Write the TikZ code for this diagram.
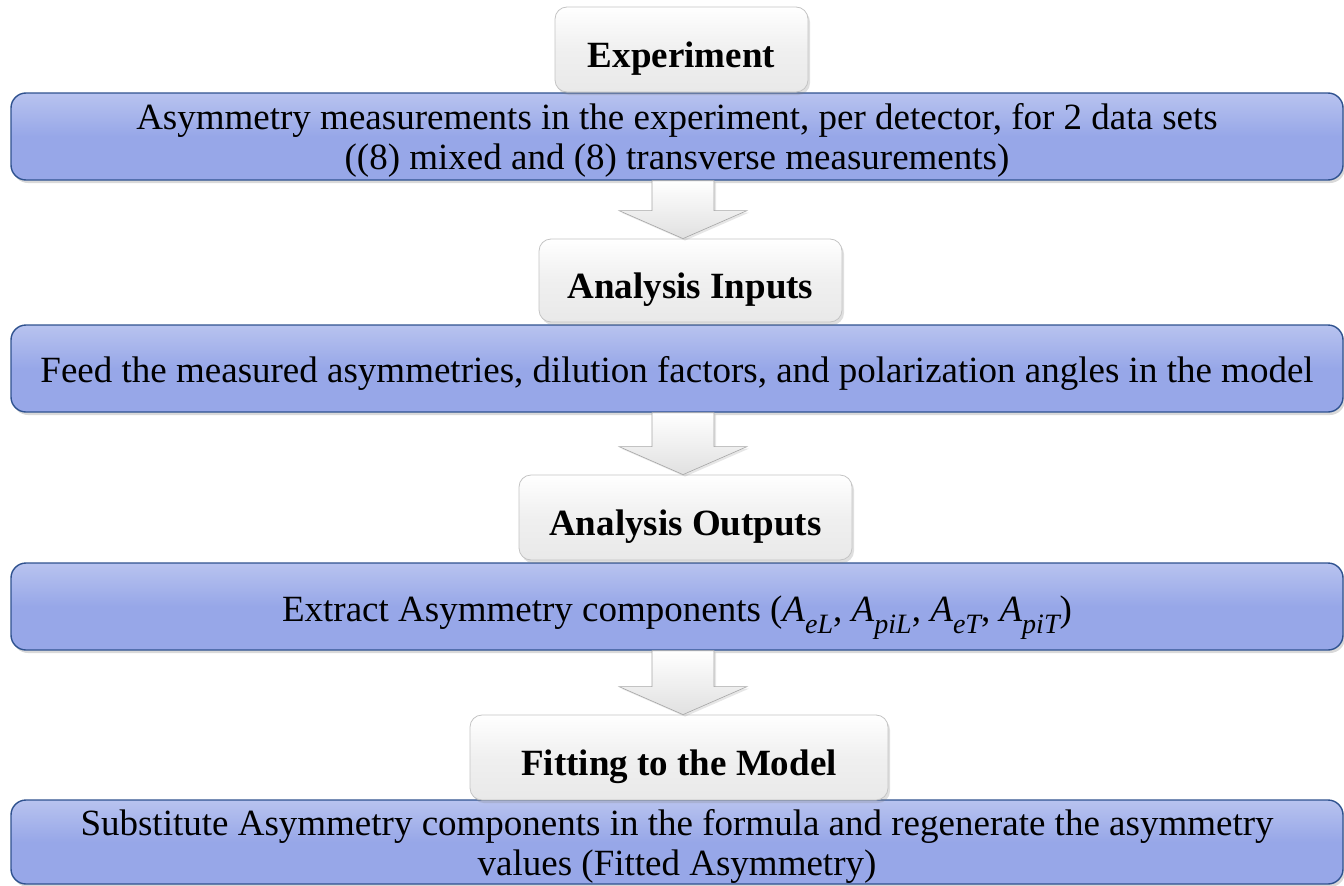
\documentclass[tikz,border=0pt]{standalone}
\usepackage{fontspec}
\setmainfont{Liberation Serif}
\usetikzlibrary{calc,shadows}
\definecolor{boxblue}{HTML}{97A7E8}
\definecolor{boxblueTop}{HTML}{B8C3EF}
\definecolor{edgeblue}{HTML}{2F528F}
\definecolor{headgray}{HTML}{E9E9E9}
\definecolor{headedge}{HTML}{C4C4C4}
\newcommand\sub[1]{\raisebox{-0.33em}[0pt][0pt]{\fontsize{28}{28}\selectfont\itshape #1}}
\newcommand\headtext[1]{\raisebox{-9pt}[\height][\depth]{#1}}
\begin{document}
\begin{tikzpicture}[x=1pt,y=-1pt,
  heading/.style={draw=headedge, line width=0.8pt, rounded corners=12pt,
    top color=white, bottom color=headgray, middle color=headgray!70!white,
    drop shadow={shadow xshift=2pt, shadow yshift=-3pt, opacity=0.25},
    font=\fontsize{37}{40}\selectfont\bfseries, inner sep=0pt},
  stage/.style={draw=edgeblue, line width=1.4pt, rounded corners=15pt,
    top color=boxblueTop, bottom color=boxblue, middle color=boxblue,
    drop shadow={shadow xshift=2pt, shadow yshift=-3pt, opacity=0.3},
    minimum width=1332pt, inner sep=0pt},
  stagetext/.style={font=\fontsize{37}{40}\selectfont, align=center, inner sep=0pt},
  arrowbox/.style={draw=black!35, line width=0.6pt, top color=white, bottom color=black!12,
    drop shadow={shadow xshift=2pt, shadow yshift=-2pt, opacity=0.2}}]
\useasboundingbox (0,0) rectangle (1344,886);

\coordinate (axis) at (683,0);

% blue stage boxes
\node[stage, minimum height=87pt] (b1) at (677,136.5) {};
\node[stage, minimum height=87pt] (b2) at (677,368.5) {};
\node[stage, minimum height=87pt] (b3) at (677,606.5) {};
\node[stage, minimum height=84pt] (b4) at (677,842) {};

% stage descriptions
\node[stagetext] (t1) at ($(b1.center)+(0,4)$)
  {Asymmetry measurements in the experiment, per detector, for 2 data sets\\((8) mixed and (8) transverse measurements)};
\node[stagetext] (t2) at ($(b2.center)+(0,5)$)
  {Feed the measured asymmetries, dilution factors, and polarization angles in the model};
\node[stagetext] (t3) at ($(b3.center)+(0,6)$)
  {Extract Asymmetry components (\textit{A}\sub{eL}, \textit{A}\sub{piL}, \textit{A}\sub{eT}, \textit{A}\sub{piT})};
\node[stagetext] (t4) at ($(b4.center)+(0,4)$)
  {Substitute Asymmetry components in the formula and regenerate the asymmetry\\values (Fitted Asymmetry)};

% gray headings
\node[heading, minimum width=253pt, minimum height=85pt] (exp) at (681.5,49.5) {\headtext{Experiment}};
\node[heading, minimum width=303pt, minimum height=83pt] (inp) at (690.5,280.5) {\headtext{Analysis Inputs}};
\node[heading, minimum width=333pt, minimum height=85pt] (out) at (685.5,517.5) {\headtext{Analysis Outputs}};
\node[heading, minimum width=418pt, minimum height=85pt] (fit) at (679,757.5) {\headtext{Fitting to the Model}};

% block arrows between stages
\newcommand\flowarrow[2]{%
  \draw[arrowbox] let \p1=(#1.south -| axis), \p2=(#2.north -| axis) in
    (\x1-31pt,\y1) -- (\x1+31pt,\y1) -- (\x1+31pt,\y2+28pt) -- (\x1+64pt,\y2+28pt)
    -- (\x2,\y2) -- (\x1-64pt,\y2+28pt) -- (\x1-31pt,\y2+28pt) -- cycle;}
\flowarrow{b1}{inp}
\flowarrow{b2}{out}
\flowarrow{b3}{fit}
\end{tikzpicture}
\end{document}
